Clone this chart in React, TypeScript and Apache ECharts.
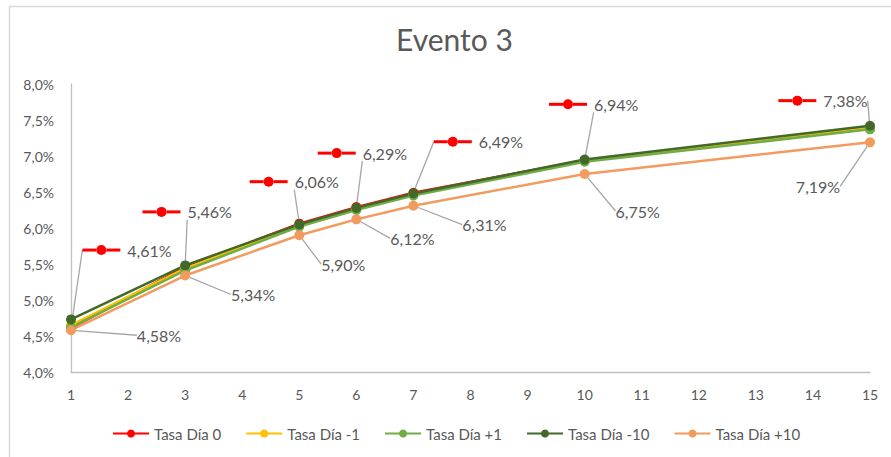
import React, { useEffect, useRef } from "react";
import * as echarts from "echarts";

// Días del evento (eje X)
const dias = [1, 3, 5, 6, 7, 10, 15];

// Tasas (%) por serie
const tasaDia0 = [4.61, 5.46, 6.06, 6.29, 6.49, 6.94, 7.38];
const tasaDiaMenos1 = [4.65, 5.44, 6.04, 6.27, 6.47, 6.93, 7.4];
const tasaDiaMas1 = [4.62, 5.41, 6.02, 6.25, 6.45, 6.92, 7.37];
const tasaDiaMenos10 = [4.73, 5.48, 6.05, 6.28, 6.48, 6.95, 7.42];
const tasaDiaMas10 = [4.58, 5.34, 5.9, 6.12, 6.31, 6.75, 7.19];

const nombres = ["Tasa Día 0", "Tasa Día -1", "Tasa Día +1", "Tasa Día -10", "Tasa Día +10"];

// Desplazamiento de cada etiqueta respecto a su punto (px)
const desplDia0 = [
  [56, -78],
  [2, -55],
  [-5, -42],
  [6, -54],
  [65, -51],
  [9, -56],
  [-47, -28],
];
const desplDiaMas10 = [
  [88, 5],
  [68, 19],
  [44, 29],
  [56, 19],
  [71, 19],
  [53, 37],
  [-52, 44],
];

const FONT = "Lato, 'Open Sans', sans-serif";
const GRIS = "#595959";
const ROJO = "#FF0000";

const fmtPct = (v: number) => v.toFixed(2).replace(".", ",") + "%";

function App() {
  const ref = useRef<HTMLDivElement>(null);

  useEffect(() => {
    if (!ref.current) return;
    const chart = echarts.init(ref.current, undefined, { renderer: "svg" });

    const serie = (name: string, valores: number[], color: string, extra: any = {}) => ({
      type: "line",
      name,
      data: dias.map((d, i) => [d, valores[i]]),
      symbol: "circle",
      symbolSize: 10,
      showSymbol: true,
      lineStyle: { color, width: 2.5 },
      itemStyle: { color },
      emphasis: { disabled: true },
      ...extra,
    });

    const guia = { show: true, lineStyle: { color: "#A6A6A6", width: 1.3 } };

    chart.setOption({
      animation: false,
      backgroundColor: "#ffffff",
      textStyle: { fontFamily: FONT },
      title: {
        text: "Evento 3",
        left: 396,
        top: 24,
        padding: 0,
        textStyle: { fontSize: 30, fontWeight: "normal", color: GRIS, fontFamily: FONT },
      },
      graphic: [
        {
          type: "rect",
          shape: { x: 9.5, y: 6.5, width: 900, height: 500 },
          style: { fill: "none", stroke: "#D9D9D9", lineWidth: 1.5 },
          silent: true,
        },
      ],
      grid: { left: 71, right: 21, top: 84, bottom: 85 },
      xAxis: {
        type: "value",
        min: 1,
        max: 15,
        interval: 1,
        axisLine: { show: true, lineStyle: { color: "#BFBFBF", width: 1.3 } },
        axisTick: { show: false },
        splitLine: { show: false },
        axisLabel: { color: GRIS, fontSize: 14, margin: 15, fontFamily: FONT },
      },
      yAxis: {
        type: "value",
        min: 4,
        max: 8,
        interval: 0.5,
        axisLine: { show: true, lineStyle: { color: "#BFBFBF", width: 1.3 } },
        axisTick: { show: false },
        splitLine: { show: false },
        axisLabel: {
          color: GRIS,
          fontSize: 14,
          margin: 17,
          fontFamily: FONT,
          formatter: (v: number) => v.toFixed(1).replace(".", ",") + "%",
        },
      },
      legend: {
        data: nombres,
        left: 112,
        top: 426,
        padding: 0,
        itemWidth: 36,
        itemHeight: 10,
        itemGap: 24,
        textStyle: { color: GRIS, fontSize: 15, fontFamily: FONT },
      },
      series: [
        serie(nombres[0], tasaDia0, ROJO, {
          label: {
            show: true,
            position: "inside",
            formatter: (p: any) => `{a|}{d|}{a|}{g|}{v|${fmtPct(p.value[1])}}`,
            rich: {
              a: { width: 14, height: 3, backgroundColor: ROJO },
              d: { width: 10, height: 10, borderRadius: 5, backgroundColor: ROJO },
              g: { width: 7 },
              v: { fontSize: 16, color: GRIS, fontFamily: FONT },
            },
          },
          labelLine: guia,
          labelLayout: (p: any) => ({
            dx: desplDia0[p.dataIndex][0],
            dy: desplDia0[p.dataIndex][1],
          }),
        }),
        serie(nombres[1], tasaDiaMenos1, "#FFC000"),
        serie(nombres[2], tasaDiaMas1, "#70AD47"),
        serie(nombres[3], tasaDiaMenos10, "#41692A"),
        serie(nombres[4], tasaDiaMas10, "#F29B5F", {
          label: {
            show: true,
            position: "inside",
            formatter: (p: any) => fmtPct(p.value[1]),
            fontSize: 16,
            color: GRIS,
            fontFamily: FONT,
          },
          labelLine: guia,
          labelLayout: (p: any) => ({
            dx: desplDiaMas10[p.dataIndex][0],
            dy: desplDiaMas10[p.dataIndex][1],
          }),
        }),
      ],
    });

    return () => chart.dispose();
  }, []);

  return (
    <div
      ref={ref}
      style={{ position: "absolute", left: 0, top: 0, width: 891, height: 457, background: "#fff" }}
    />
  );
}

export default App;
